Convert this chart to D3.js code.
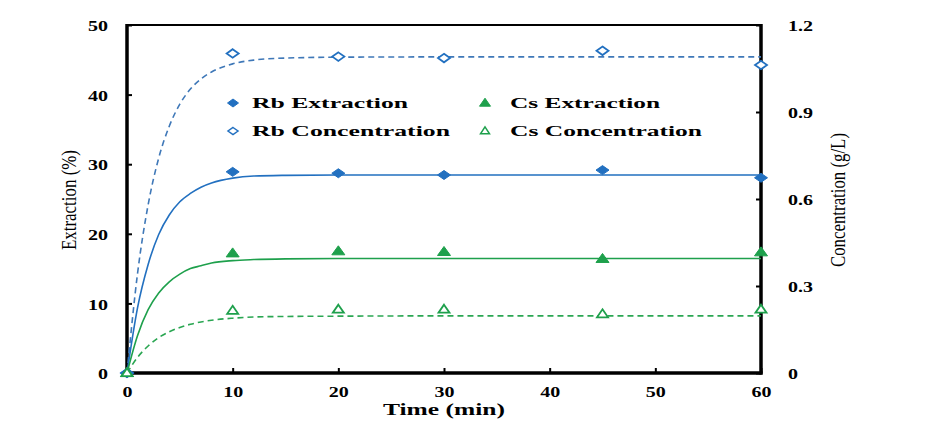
<!DOCTYPE html>
<html>
<head>
<meta charset="utf-8">
<script src="https://cdn.jsdelivr.net/npm/d3@7"></script>
<style>
  html, body { margin: 0; padding: 0; background: #fff; }
  svg { display: block; }
</style>
</head>
<body>
<svg id="chart" width="930" height="429"></svg>
<script>
// ---- Data ----
const time = [0, 10, 20, 30, 45, 60];
const rbExtraction = [0, 28.9, 28.7, 28.45, 29.15, 28.05];          // %
const csExtraction = [0, 17.2, 17.5, 17.4, 16.4, 17.35];            // %
const rbConcentration = [0, 1.102, 1.091, 1.086, 1.111, 1.062];     // g/L
const csConcentration = [0, 0.215, 0.219, 0.219, 0.203, 0.219];     // g/L

// fitted kinetic curves
const fitTime = [0, 1, 2, 3, 4, 5, 6, 7, 8, 10, 12, 15, 20, 30, 45, 60];
const rbExtractionFit = [0, 9.4, 15.6, 19.9, 22.7, 24.6, 25.8, 26.7, 27.3, 28.0, 28.3, 28.4, 28.45, 28.45, 28.45, 28.45];
const csExtractionFit = [0, 5.4, 9.1, 11.5, 13.1, 14.2, 15.0, 15.4, 15.8, 16.15, 16.3, 16.4, 16.45, 16.45, 16.45, 16.45];
const rbConcentrationFit = [0, 0.344, 0.580, 0.741, 0.851, 0.927, 0.979, 1.014, 1.038, 1.066, 1.079, 1.086, 1.089, 1.09, 1.09, 1.09];
const csConcentrationFit = [0, 0.054, 0.093, 0.122, 0.142, 0.157, 0.168, 0.176, 0.182, 0.189, 0.193, 0.195, 0.196, 0.197, 0.197, 0.197];

const xTicks = [0, 10, 20, 30, 40, 50, 60];
const yLeftTicks = [0, 10, 20, 30, 40, 50];
const yRightTicks = [0, 0.3, 0.6, 0.9, 1.2];
const yRightTickLabels = ["0", "0.3", "0.6", "0.9", "1.2"];

const legendItems = ["Rb Extraction", "Cs Extraction", "Rb Concentration", "Cs Concentration"];

// ---- Layout ----
const L = 127, R = 761, T = 25, B = 373;
const BLUE = "#2270c0", GREEN = "#1ea04c";
const BLUE_DASH = "#3f78b8", GREEN_DASH = "#2aa652";

const svg = d3.select("#chart");
const x = d3.scaleLinear().domain([0, 60]).range([L, R]);
const yL = d3.scaleLinear().domain([0, 50]).range([B, T]);
const yR = d3.scaleLinear().domain([0, 1.2]).range([B, T]);

const serif = "'Liberation Serif', 'Times New Roman', serif";
function labelLen(s) { // approximate stretched width of bold digit labels
  let w = 0;
  for (const c of s) w += (c === ".") ? 5 : 10;
  return w;
}

// ---- Axes with inward ticks ----
const gL = svg.append("g").attr("transform", `translate(${L},0)`)
  .call(d3.axisLeft(yL).tickValues(yLeftTicks).tickSize(-5).tickPadding(19).tickFormat(d3.format("d")));
const gR = svg.append("g").attr("transform", `translate(${R},0)`)
  .call(d3.axisRight(yR).tickValues(yRightTicks).tickSize(-5).tickPadding(27)
    .tickFormat((d, i) => yRightTickLabels[i]));
const gB = svg.append("g").attr("transform", `translate(0,${B})`)
  .call(d3.axisBottom(x).tickValues(xTicks).tickSize(-5).tickPadding(14).tickFormat(d3.format("d")));

[gL, gR, gB].forEach(g => {
  g.select(".domain").remove();
  g.selectAll(".tick line").attr("stroke", "#000").attr("stroke-width", 2);
  g.selectAll(".tick text")
    .attr("fill", "#000")
    .style("font-family", serif)
    .style("font-weight", "bold")
    .style("font-size", "14px")
    .attr("textLength", function() { return labelLen(this.textContent); })
    .attr("lengthAdjust", "spacingAndGlyphs");
});
gL.selectAll(".tick text").attr("dy", "0.4em");
gR.selectAll(".tick text").attr("dy", "0.4em");

// ---- Frame ----
svg.append("line").attr("x1", L).attr("x2", R).attr("y1", T).attr("y2", T)
  .attr("stroke", "#000").attr("stroke-width", 2);
svg.append("line").attr("x1", L).attr("x2", L).attr("y1", T - 1).attr("y2", B + 1.5)
  .attr("stroke", "#000").attr("stroke-width", 3.5);
svg.append("line").attr("x1", R).attr("x2", R).attr("y1", T - 1).attr("y2", B + 1.5)
  .attr("stroke", "#000").attr("stroke-width", 3.5);
svg.append("line").attr("x1", L - 1.5).attr("x2", R + 1.5).attr("y1", B).attr("y2", B)
  .attr("stroke", "#000").attr("stroke-width", 3.5);

// ---- Fitted curves ----
function curve(vals, yScale, color, dashed, width) {
  const line = d3.line()
    .x((d, i) => x(fitTime[i]))
    .y(d => yScale(d))
    .curve(d3.curveMonotoneX);
  svg.append("path").datum(vals)
    .attr("d", line)
    .attr("fill", "none")
    .attr("stroke", color)
    .attr("stroke-width", width)
    .attr("stroke-dasharray", dashed ? "6,4" : null);
}
curve(rbConcentrationFit, yR, BLUE_DASH, true, 1.6);
curve(rbExtractionFit, yL, BLUE, false, 1.6);
curve(csExtractionFit, yL, GREEN, false, 1.6);
curve(csConcentrationFit, yR, GREEN_DASH, true, 1.6);

// ---- Markers ----
const diamond = (w, h) => `M0,${-h / 2}L${w / 2},0L0,${h / 2}L${-w / 2},0Z`;
const triangle = (w, h) => `M0,${-h * 0.6}L${w / 2},${h * 0.4}L${-w / 2},${h * 0.4}Z`;

function markers(vals, yScale, shape, color, filled) {
  svg.append("g").selectAll("path").data(vals).join("path")
    .attr("transform", (d, i) => `translate(${x(time[i])},${yScale(d)})`)
    .attr("d", shape)
    .attr("fill", filled ? color : "#fff")
    .attr("stroke", color)
    .attr("stroke-width", filled ? 1 : 1.8);
}
markers(rbConcentration, yR, diamond(12, 8.5), BLUE, false);
markers(rbExtraction, yL, diamond(13, 9), BLUE, true);
markers(csExtraction, yL, triangle(13, 9), GREEN, true);
markers(csConcentration, yR, triangle(11, 8), GREEN, false);

// ---- Legend ----
const legendCfg = [
  { mx: 233, tx: 252, y: 103, len: 156, shape: diamond(11, 8), color: BLUE, filled: true },
  { mx: 485, tx: 510, y: 103, len: 150, shape: triangle(11, 8), color: GREEN, filled: true },
  { mx: 233, tx: 252, y: 131, len: 198, shape: diamond(10, 7), color: BLUE, filled: false },
  { mx: 485, tx: 510, y: 131, len: 192, shape: triangle(9, 7), color: GREEN, filled: false }
];
legendItems.forEach((name, i) => {
  const c = legendCfg[i];
  svg.append("path")
    .attr("transform", `translate(${c.mx},${c.y})`)
    .attr("d", c.shape)
    .attr("fill", c.filled ? c.color : "#fff")
    .attr("stroke", c.color)
    .attr("stroke-width", c.filled ? 1 : 1.5);
  svg.append("text")
    .attr("x", c.tx).attr("y", c.y + 5)
    .attr("textLength", c.len).attr("lengthAdjust", "spacingAndGlyphs")
    .style("font-family", serif).style("font-weight", "bold").style("font-size", "15.5px")
    .attr("fill", "#000")
    .text(name);
});

// ---- Axis titles ----
svg.append("text")
  .attr("x", x(30)).attr("y", 415)
  .attr("text-anchor", "middle")
  .attr("textLength", 122).attr("lengthAdjust", "spacingAndGlyphs")
  .style("font-family", serif).style("font-weight", "bold").style("font-size", "17.5px")
  .attr("fill", "#000")
  .text("Time (min)");

svg.append("text")
  .attr("transform", "translate(76,200) rotate(-90)")
  .attr("text-anchor", "middle")
  .attr("textLength", 100).attr("lengthAdjust", "spacingAndGlyphs")
  .style("font-family", serif).style("font-size", "21px")
  .attr("fill", "#000")
  .text("Extraction (%)");

svg.append("text")
  .attr("transform", "translate(845,200) rotate(-90)")
  .attr("text-anchor", "middle")
  .attr("textLength", 134).attr("lengthAdjust", "spacingAndGlyphs")
  .style("font-family", serif).style("font-size", "21px")
  .attr("fill", "#000")
  .text("Concentration (g/L)");
</script>
</body>
</html>
